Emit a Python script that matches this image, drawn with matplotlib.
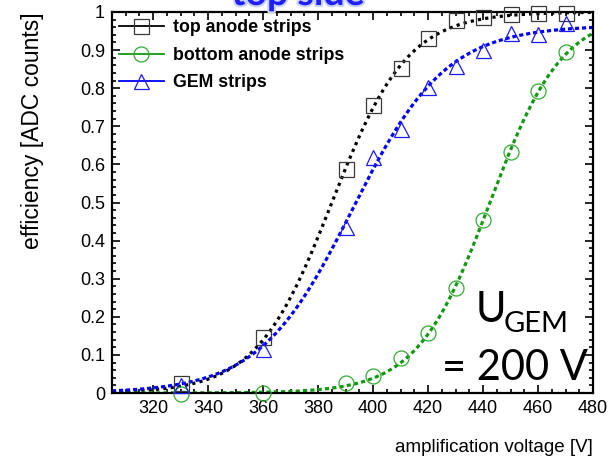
import numpy as np
import matplotlib
matplotlib.use("Agg")
import matplotlib.pyplot as plt
from matplotlib.lines import Line2D
from matplotlib.ticker import MultipleLocator
import matplotlib.patheffects as pe

plt.rcParams['font.family'] = ['Liberation Sans', 'DejaVu Sans']

# amplification voltage [V]
voltage = np.array([330, 360, 390, 400, 410, 420, 430, 440, 450, 460, 470])

# efficiencies per readout
eff_top = np.array([0.025, 0.146, 0.588, 0.756, 0.854, 0.932, 0.979, 0.987, 0.995, 0.997, 0.998])
eff_bottom = np.array([-0.003, 0.0, 0.025, 0.045, 0.091, 0.157, 0.275, 0.454, 0.633, 0.793, 0.894])
eff_gem = np.array([0.021, 0.116, 0.437, 0.619, 0.693, 0.803, 0.858, 0.90, 0.944, 0.943, 0.972])

labels = ["top anode strips", "bottom anode strips", "GEM strips"]
x_ticks = [320, 340, 360, 380, 400, 420, 440, 460, 480]
y_ticks = [0, 0.1, 0.2, 0.3, 0.4, 0.5, 0.6, 0.7, 0.8, 0.9, 1]


def logistic(u, p, u0, w):
    return p / (1 + np.exp(-(u - u0) / w))


# least squares logistic fit by brute-force grid search (no scipy here)
def fit_logistic(u, eff):
    P, M, W = np.meshgrid(np.linspace(0.9, 1.0, 21),
                          np.linspace(360, 470, 221),
                          np.linspace(5, 30, 101), indexing='ij')
    model = P[..., None] / (1 + np.exp(-(u - M[..., None]) / W[..., None]))
    sse = ((model - eff) ** 2).sum(axis=-1)
    i = np.unravel_index(sse.argmin(), sse.shape)
    return P[i], M[i], W[i]


fig = plt.figure(figsize=(6.13, 4.62), dpi=100)
ax = fig.add_axes([112 / 613, 69 / 462, 481 / 613, 381 / 462])

u_fine = np.linspace(305, 480, 400)
series = [
    (eff_top, 's', 'black', '#3a3a3a', (0, (1.0, 1.3))),
    (eff_bottom, 'o', '#119911', '#33aa33', (0, (1.3, 1.0))),
    (eff_gem, '^', '#0000ff', '#1a1aff', (0, (1.3, 0.9))),
]
handles = []
for (eff, mk, col, edge, ls), lab in zip(series, labels):
    p, u0, w = fit_logistic(voltage, eff)
    ax.plot(u_fine, logistic(u_fine, p, u0, w), color=col, lw=2.3, linestyle=ls, zorder=2)
    ax.plot(voltage, eff, linestyle='none', marker=mk, ms=10.8, mfc='none',
            mec=edge, mew=0.9, zorder=3, clip_on=False)
    handles.append(Line2D([], [], color=col, lw=1.3, marker=mk, ms=10.8, mfc='none',
                          mec=edge, mew=0.9))

ax.set_xlim(305, 480)
ax.set_ylim(0, 1)
ax.set_xticks(x_ticks)
ax.set_yticks(y_ticks)
ax.set_yticklabels(["0", "0.1", "0.2", "0.3", "0.4", "0.5", "0.6", "0.7", "0.8", "0.9", "1"])
ax.xaxis.set_minor_locator(MultipleLocator(5))
ax.yaxis.set_minor_locator(MultipleLocator(0.02))
ax.tick_params(which='both', direction='in', top=True, right=True, width=1.2)
ax.tick_params(which='major', length=6, labelsize=13, pad=5)
ax.tick_params(which='minor', length=3)
for s in ax.spines.values():
    s.set_linewidth(1.6)

ax.set_xlabel("amplification voltage [V]", fontsize=13.5, loc='right', labelpad=16)
ax.set_ylabel("efficiency [ADC counts]", fontsize=16.5, loc='top', labelpad=26)

ax.legend(handles, labels, loc='upper left', bbox_to_anchor=(0.0, 1.0), frameon=False,
          prop={'weight': 'bold', 'size': 12.8}, handlelength=2.5, handletextpad=0.55,
          labelspacing=0.6, borderpad=0.2, borderaxespad=0.2)

# operating point annotation
ax.text(0.755, 0.186, "U", transform=ax.transAxes, fontsize=30, family='Lato',
        ha='left', va='baseline')
ax.text(0.815, 0.160, "GEM", transform=ax.transAxes, fontsize=21, family='Lato',
        ha='left', va='baseline')
ax.text(0.99, 0.034, "= 200 V", transform=ax.transAxes, fontsize=30, family='Lato',
        ha='right', va='baseline')

# slide title, mostly above the visible area
fig.text(0.486, 1 - 5 / 462, "top side", ha='center', va='baseline', fontsize=27,
         fontweight='bold', family='Lato', color='#1f1fff',
         path_effects=[pe.withStroke(linewidth=3, foreground='#c8d4ff')])

fig.savefig("out.png", dpi=100)
